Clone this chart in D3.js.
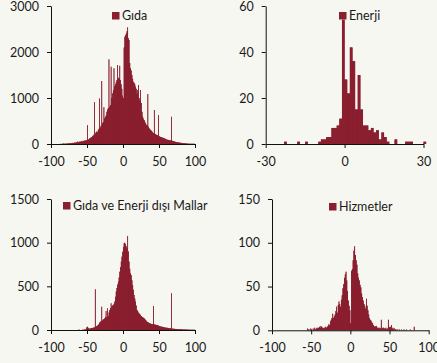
<!DOCTYPE html>
<html>
<head>
<meta charset="utf-8">
<script src="https://cdn.jsdelivr.net/npm/d3@7"></script>
<style>
  html, body { margin: 0; padding: 0; background: #f7f7f2; }
  svg { display: block; }
  text { font-family: Lato, "Open Sans", sans-serif; fill: #1a1a1a; }
</style>
</head>
<body>
<svg id="chart" width="437" height="363"></svg>
<script>
// ---- Data: histogram counts, bins of width 1 ----
// Gıda: bins -100 .. 99
const gidaStart = -100;
const gida = [
  0,0,0,0,0,0,0,0,0,0,
  0,0,0,5,0,8,5,10,5,8,
  10,8,12,10,15,10,20,15,18,20,
  25,20,30,28,35,30,55,40,45,50,
  55,50,60,55,70,65,75,70,80,85,
  410,95,105,120,130,140,150,170,180,200,
  910,230,250,270,260,300,330,990,360,400,
  1370,450,480,800,560,590,620,700,750,780,
  1840,810,850,1680,1000,1100,1170,1645,1250,1300,
  1350,1390,1717,1440,1420,1700,1390,1300,1200,1050,
  1000,2100,2330,2370,2400,2450,2536,2300,2260,1760,
  1650,1600,1500,1420,1355,1330,1300,1246,1200,1100,
  1174,1283,1000,950,1174,890,700,594,550,520,
  485,450,420,400,1087,377,340,320,304,290,
  270,250,232,740,220,210,200,196,180,630,
  170,160,150,145,140,135,130,123,115,110,
  100,95,90,85,87,80,75,590,70,65,
  60,55,50,45,40,38,35,32,30,28,
  25,22,20,18,16,15,14,12,10,10,
  8,8,6,6,5,5,4,4,3,3
];

// Enerji: bins -30 .. 30
const enerjiStart = -30;
const enerji = [
  0,0,0,0,0,0,0,1,0,0,
  0,0,1,0,0,1,0,0,0,0,
  1,2,2,3,3,7,7,8,11,54,
  28,22,42,36,15,30,15,8,8,6,
  7,5,6,2,5,3,1,0,0,2,
  0,0,0,1,1,1,0,0,0,0,
  1
];

// Gıda ve Enerji dışı Mallar: bins -100 .. 99
const mallarStart = -100;
const mallar = [
  0,0,0,0,0,0,0,0,0,0,
  0,0,0,0,0,0,0,0,0,0,
  0,0,0,0,0,0,0,0,0,0,
  0,0,0,0,0,0,0,0,2,3,
  0,0,0,2,3,4,5,6,10,30,
  38,25,18,15,18,20,22,24,25,28,
  30,466,40,45,50,57,70,85,95,100,
  267,110,120,125,134,150,218,145,248,160,
  200,230,250,305,267,280,286,300,325,380,
  440,480,520,553,600,668,720,783,840,897,
  950,993,1000,985,960,935,1077,900,783,700,
  650,630,570,515,460,400,360,325,280,230,
  220,200,190,180,172,160,150,145,140,134,
  125,115,105,95,90,85,80,76,72,70,
  68,66,275,64,62,60,58,57,55,50,
  45,42,40,38,36,35,33,30,28,27,
  26,25,24,22,20,19,18,420,16,15,
  14,13,12,12,11,11,10,10,9,9,
  8,8,7,7,6,6,5,5,5,5,
  4,4,4,4,3,3,3,3,2,2
];

// Hizmetler: bins -100 .. 99
const hizmetStart = -100;
const hizmet = [
  0,0,0,0,0,0,0,0,0,0,
  0,0,0,0,0,0,0,0,0,0,
  0,0,0,0,0,0,0,0,0,0,
  0,0,0,0,0,0,0,0,0,0,
  0,0,0,0,0,2,1,0,1,2,
  1,0,2,1,3,1,2,3,2,3,
  4,3,5,4,3,2,3,3,4,3,
  4,5,7,6,10,12,14,19,14,16,
  18,22,27,20,29,33,30,27,35,40,
  48,53,60,64,67,57,45,34,28,23,
  8,68,70,80,91,96,86,80,75,65,
  60,57,52,49,42,38,34,30,28,25,
  36,28,23,18,14,12,11,9,8,6,
  4,5,4,5,3,3,2,3,2,12,
  3,2,3,2,2,3,1,2,12,4,
  3,4,6,2,3,1,2,1,1,0,
  1,0,1,0,0,1,0,0,1,0,
  0,1,0,0,0,0,1,0,0,0,
  0,4,0,0,0,0,0,0,0,0,
  0,0,0,0,0,0,0,0,0,0
];

const titles = ["Gıda", "Enerji", "Gıda ve Enerji dışı Mallar", "Hizmetler"];
const xTicksWide = [-100, -50, 0, 50, 100];
const xTicksEnerji = [-30, 0, 30];
const yTicks1 = [0, 1000, 2000, 3000];
const yTicks2 = [0, 20, 40, 60];
const yTicks3 = [0, 500, 1000, 1500];
const yTicks4 = [0, 50, 100, 150];

const barColor = "#8a1f2f";
const svg = d3.select("#chart");

const panels = [
  { data: gida, start: gidaStart, title: titles[0], xd: [-100, 100], xr: [51, 195], yd: [0, 3000], yr: [144, 6], xt: xTicksWide, yt: yTicks1, leg: [112, 12] },
  { data: enerji, start: enerjiStart, title: titles[1], xd: [-30, 30], xr: [265.7, 423.5], yd: [0, 60], yr: [144, 6], xt: xTicksEnerji, yt: yTicks2, leg: [339, 12] },
  { data: mallar, start: mallarStart, title: titles[2], xd: [-100, 100], xr: [51, 195], yd: [0, 1500], yr: [330, 199], xt: xTicksWide, yt: yTicks3, leg: [63, 202] },
  { data: hizmet, start: hizmetStart, title: titles[3], xd: [-100, 100], xr: [272, 428.7], yd: [0, 150], yr: [330.3, 199], xt: xTicksWide, yt: yTicks4, leg: [329, 203] }
];

panels.forEach(p => {
  const x = d3.scaleLinear().domain(p.xd).range(p.xr);
  const y = d3.scaleLinear().domain(p.yd).range(p.yr);
  const g = svg.append("g");
  const bins = p.data.map((c, i) => ({ v: p.start + i, c }));

  // stepped fill under the bars (same bins) to avoid anti-aliasing seams
  const stepData = bins.concat([{ v: p.start + bins.length, c: 0 }]);
  g.append("path")
    .datum(stepData)
    .attr("fill", barColor)
    .attr("d", d3.area().curve(d3.curveStepAfter).x(d => x(d.v)).y0(y(0)).y1(d => y(d.c)));

  g.append("g").selectAll("rect")
    .data(bins.filter(d => d.c > 0))
    .join("rect")
    .attr("x", d => x(d.v))
    .attr("width", d => x(d.v + 1) - x(d.v))
    .attr("y", d => y(d.c))
    .attr("height", d => y(0) - y(d.c))
    .attr("fill", barColor);

  const ya = g.append("g")
    .attr("transform", `translate(${p.xr[0]},0)`)
    .call(d3.axisLeft(y).tickValues(p.yt).tickSize(4).tickSizeOuter(0).tickPadding(8).tickFormat(d3.format("d")));
  const xa = g.append("g")
    .attr("transform", `translate(0,${p.yr[0]})`)
    .call(d3.axisBottom(x).tickValues(p.xt).tickSize(4).tickSizeOuter(0).tickPadding(9).tickFormat(d3.format("d")));
  [ya, xa].forEach(a => {
    a.selectAll("path, line").attr("stroke", "#111");
    a.selectAll("text").attr("font-size", 12.5).attr("font-family", "Lato, 'Open Sans', sans-serif").attr("fill", "#1a1a1a");
  });
  xa.selectAll("text").text(d => String(d));
  ya.selectAll("text").text(d => String(d));

  g.append("rect").attr("x", p.leg[0]).attr("y", p.leg[1]).attr("width", 7.5).attr("height", 7.5).attr("fill", barColor);
  g.append("text").attr("x", p.leg[0] + 10).attr("y", p.leg[1] + 7.5)
    .attr("font-size", 12.5).text(p.title);
});
</script>
</body>
</html>
